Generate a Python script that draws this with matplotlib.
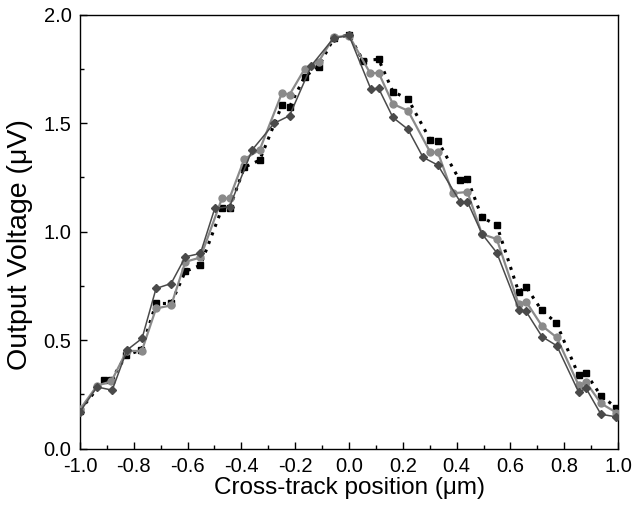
import matplotlib
matplotlib.use("Agg")
import matplotlib.pyplot as plt
from matplotlib.ticker import MultipleLocator, FormatStrFormatter

plt.rcParams['font.family'] = ['Liberation Sans', 'DejaVu Sans']

# squares, black, dotted line
sq_x = [-1.0, -0.909, -0.883, -0.827, -0.772, -0.717, -0.661, -0.608, -0.552, -0.472,
        -0.444, -0.389, -0.332, -0.249, -0.221, -0.165, -0.113, -0.057, 0.0, 0.052,
        0.110, 0.163, 0.219, 0.302, 0.330, 0.411, 0.440, 0.494, 0.549, 0.630,
        0.658, 0.716, 0.770, 0.853, 0.881, 0.936, 0.993]
sq_y = [0.175, 0.318, 0.318, 0.431, 0.454, 0.669, 0.669, 0.817, 0.845, 1.107,
        1.107, 1.297, 1.330, 1.584, 1.576, 1.715, 1.761, 1.892, 1.907, 1.789,
        1.795, 1.646, 1.612, 1.423, 1.418, 1.238, 1.243, 1.066, 1.030, 0.723,
        0.745, 0.637, 0.580, 0.338, 0.346, 0.243, 0.189]

# circles, light gray
ci_x = [-1.0, -0.936, -0.883, -0.826, -0.770, -0.717, -0.661, -0.608, -0.552, -0.472,
        -0.444, -0.389, -0.332, -0.249, -0.221, -0.165, -0.113, -0.057, 0.0, 0.079,
        0.110, 0.163, 0.219, 0.302, 0.330, 0.385, 0.440, 0.494, 0.549, 0.630,
        0.658, 0.716, 0.772, 0.853, 0.881, 0.936, 0.993]
ci_y = [0.18, 0.29, 0.31, 0.45, 0.45, 0.646, 0.66, 0.861, 0.881, 1.154,
        1.154, 1.335, 1.377, 1.640, 1.632, 1.750, 1.784, 1.897, 1.904, 1.730,
        1.733, 1.589, 1.558, 1.366, 1.366, 1.177, 1.183, 0.989, 0.966, 0.666,
        0.677, 0.567, 0.512, 0.292, 0.305, 0.208, 0.166]

# diamonds, dark gray
di_x = [-1.0, -0.936, -0.880, -0.825, -0.769, -0.717, -0.661, -0.608, -0.552, -0.499,
        -0.444, -0.360, -0.278, -0.221, -0.140, -0.057, 0.0, 0.081, 0.110, 0.163,
        0.219, 0.275, 0.330, 0.413, 0.440, 0.494, 0.549, 0.632, 0.658, 0.717,
        0.772, 0.853, 0.881, 0.936, 0.993]
di_y = [0.169, 0.284, 0.269, 0.454, 0.508, 0.738, 0.761, 0.884, 0.900, 1.107,
        1.115, 1.377, 1.500, 1.535, 1.766, 1.893, 1.905, 1.658, 1.661, 1.527,
        1.472, 1.343, 1.307, 1.138, 1.138, 0.990, 0.903, 0.638, 0.632, 0.516,
        0.474, 0.261, 0.277, 0.158, 0.146]

fig = plt.figure(figsize=(6.34, 5.12), dpi=100)
ax = fig.add_axes([0.126, 0.124, 0.849, 0.847])

ax.plot(sq_x, sq_y, color='black', linestyle=(0, (1, 2)), linewidth=2.2,
        marker='s', markersize=5, zorder=2)
ax.plot(ci_x, ci_y, color='#8a8a8a', linestyle='-', linewidth=1.6,
        marker='o', markersize=5, zorder=3)
ax.plot(di_x, di_y, color='#4a4a4a', linestyle='-', linewidth=1.1,
        marker='D', markersize=4.5, zorder=4)

ax.set_xlim(-1.0, 1.0)
ax.set_ylim(0.0, 2.0)
ax.xaxis.set_major_locator(MultipleLocator(0.2))
ax.xaxis.set_minor_locator(MultipleLocator(0.1))
ax.yaxis.set_major_locator(MultipleLocator(0.5))
ax.yaxis.set_minor_locator(MultipleLocator(0.25))
ax.xaxis.set_major_formatter(FormatStrFormatter('%.1f'))
ax.yaxis.set_major_formatter(FormatStrFormatter('%.1f'))
ax.tick_params(which='both', direction='in', top=False, right=False, labelsize=14.5)
ax.tick_params(which='major', length=5, width=1)
ax.tick_params(which='minor', length=3, width=1)
ax.tick_params(axis='x', pad=6)
ax.tick_params(axis='y', pad=6)
for s in ax.spines.values():
    s.set_linewidth(1.0)

ax.set_xlabel('Cross-track position (\u03bcm)', fontsize=17.5, labelpad=1)
ax.set_ylabel('Output Voltage (\u03bcV)', fontsize=20.5)
ax.yaxis.set_label_coords(-0.087, 0.47)

fig.savefig('out.png', dpi=100)
